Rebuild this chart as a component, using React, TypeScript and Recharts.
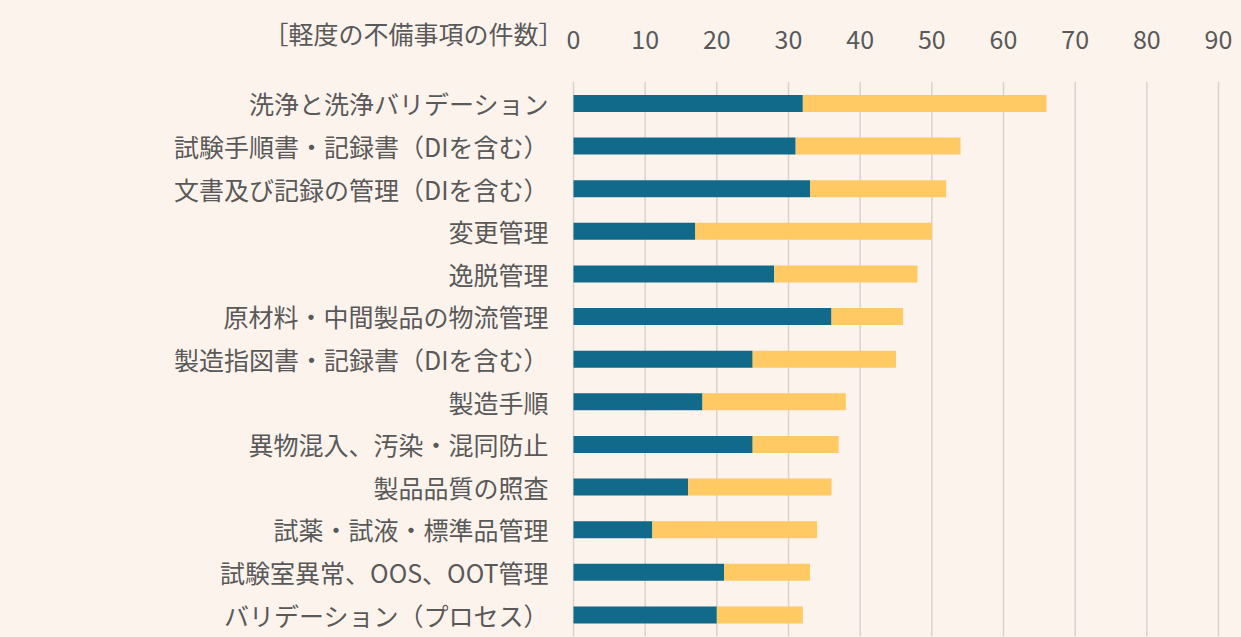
import { BarChart, Bar, XAxis, YAxis, CartesianGrid } from "recharts";

const categories = [
  "洗浄と洗浄バリデーション",
  "試験手順書・記録書（DIを含む）",
  "文書及び記録の管理（DIを含む）",
  "変更管理",
  "逸脱管理",
  "原材料・中間製品の物流管理",
  "製造指図書・記録書（DIを含む）",
  "製造手順",
  "異物混入、汚染・混同防止",
  "製品品質の照査",
  "試薬・試液・標準品管理",
  "試験室異常、OOS、OOT管理",
  "バリデーション（プロセス）",
];
const seriesA = [32, 31, 33, 17, 28, 36, 25, 18, 25, 16, 11, 21, 20];
const seriesB = [34, 23, 19, 33, 20, 10, 20, 20, 12, 20, 23, 12, 12];
const xTicks = [0, 10, 20, 30, 40, 50, 60, 70, 80, 90];
const axisTitle = "［軽度の不備事項の件数］";

const data = categories.map((name, i) => ({ name, a: seriesA[i], b: seriesB[i] }));

const TEXT = "#595959";
const FONT = "'Noto Sans CJK JP', 'Noto Sans', sans-serif";

function CategoryTick({ x, y, payload }: any) {
  return (
    <text x={x} y={y} textAnchor="end" dominantBaseline="central" fill={TEXT} fontSize={25} fontFamily={FONT}>
      {payload.value}
    </text>
  );
}

function ValueTick({ x, y, payload }: any) {
  return (
    <text x={x} y={y} textAnchor="middle" fill={TEXT} fontSize={25} fontFamily={FONT}>
      {payload.value}
    </text>
  );
}

function AxisTitle({ viewBox }: any) {
  return (
    <text
      x={viewBox.x - 10}
      y={viewBox.y + viewBox.height - 38.5}
      textAnchor="end"
      fill={TEXT}
      fontSize={25}
      fontFamily={FONT}
    >
      {axisTitle}
    </text>
  );
}

export default function App() {
  return (
    <div style={{ position: "absolute", left: 0, top: 0, width: 1241, height: 637, background: "#fdf3ed", overflow: "hidden" }}>
      <BarChart
        width={1241}
        height={637}
        data={data}
        layout="vertical"
        margin={{ top: 2, right: 22.5, left: 0, bottom: 1 }}
      >
        <CartesianGrid horizontal={false} stroke="#d9d2cd" strokeWidth={1.5} />
        <XAxis
          type="number"
          orientation="top"
          domain={[0, 90]}
          ticks={xTicks}
          height={80}
          axisLine={false}
          tickLine={false}
          tickSize={0}
          tickMargin={33.5}
          tick={<ValueTick />}
          label={<AxisTitle />}
        />
        <YAxis
          type="category"
          dataKey="name"
          width={573.5}
          axisLine={false}
          tickLine={false}
          tickSize={0}
          tickMargin={25}
          interval={0}
          tick={<CategoryTick />}
        />
        <Bar dataKey="a" stackId="s" fill="#116a8a" barSize={17} isAnimationActive={false} />
        <Bar dataKey="b" stackId="s" fill="#ffca64" barSize={17} isAnimationActive={false} />
      </BarChart>
    </div>
  );
}
